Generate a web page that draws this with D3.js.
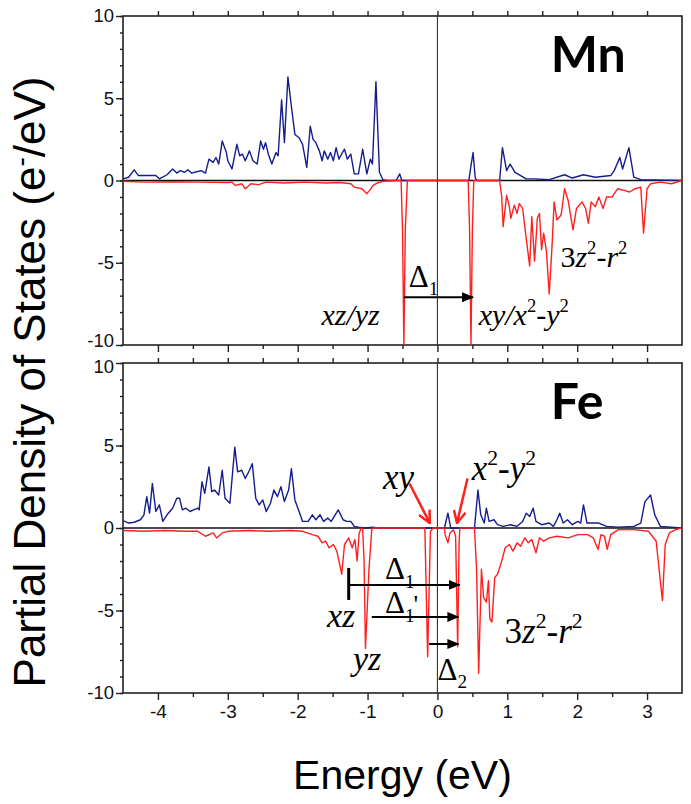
<!DOCTYPE html>
<html><head><meta charset="utf-8">
<script src="https://cdn.jsdelivr.net/npm/d3@7"></script>
<style>
body{margin:0;background:#fff}svg{display:block}
.sans{font-family:"Liberation Sans", Arial, Helvetica, sans-serif;}
.serif{font-family:"Liberation Serif", "Times New Roman", Times, serif;}
.lab{font-family:Lato, "Open Sans", sans-serif; font-weight:700;}
</style>
</head><body>
<svg id="c" width="691" height="804"></svg>
<script>
// ---------- DATA (energy in eV, PDOS in e-/eV) ----------
const xTicks = [-4,-3,-2,-1,0,1,2,3];
const yTicks = [-10,-5,0,5,10];

const mnUpE = [-4.50,-4.42,-4.34,-4.28,-4.20,-4.03,-3.98,-3.87,-3.79,-3.73,-3.68,-3.62,-3.57,-3.52,-3.43,-3.38,-3.32,-3.27,-3.21,-3.17,-3.13,-3.08,-3.02,-3.00,-2.94,-2.87,-2.83,-2.79,-2.75,-2.69,-2.64,-2.58,-2.53,-2.49,-2.46,-2.42,-2.37,-2.31,-2.28,-2.23,-2.19,-2.14,-2.09,-2.04,-1.98,-1.93,-1.87,-1.82,-1.78,-1.74,-1.69,-1.65,-1.62,-1.57,-1.53,-1.49,-1.45,-1.41,-1.36,-1.33,-1.29,-1.24,-1.19,-1.13,-1.07,-1.01,-0.96,-0.93,-0.88,-0.83,-0.78,-0.72,-0.59,-0.54,-0.51,0.45,0.48,0.51,0.54,0.56,0.89,0.93,0.99,1.04,1.11,1.19,1.27,1.38,1.60,1.82,1.93,2.09,2.26,2.48,2.53,2.61,2.65,2.74,2.81,2.91,3.50];
const mnUp  = [0.1,0.2,0.65,0.3,0.3,0.3,0.1,0.35,0.7,0.45,0.6,0.5,0.65,0.45,0.55,0.6,0.45,1.3,1.1,1.4,1.0,2.4,1.7,1.2,0.7,2.2,1.5,1.6,1.2,1.8,1.2,1.0,2.4,1.9,2.3,1.6,1.0,1.7,1.5,4.9,2.3,6.3,4.5,2.8,2.6,2.2,0.8,3.3,2.5,2.3,1.8,1.2,1.8,1.3,1.7,1.2,2.0,1.3,1.7,1.9,1.3,1.6,0.4,0.4,1.9,0.4,1.3,1.0,6.0,0.5,0.05,0,0,0.4,0,0,0.9,1.7,0.2,0,0,2.0,0.6,1.0,0.5,0.3,0.1,0.1,0.05,0.35,0.15,0.35,0.2,0.3,0.6,1.4,0.7,2.0,0.2,0.05,0];

const mnDnE = [-4.50,-4.20,-3.80,-3.40,-3.00,-2.94,-2.89,-2.80,-2.75,-2.67,-2.56,-2.45,-2.20,-1.90,-1.60,-1.40,-1.24,-1.19,-1.08,-1.01,-0.97,-0.92,-0.86,-0.78,-0.59,-0.52,-0.50,-0.48,-0.46,-0.43,0.44,0.46,0.48,0.50,0.52,0.89,0.92,0.94,0.99,1.03,1.05,1.10,1.14,1.17,1.22,1.27,1.32,1.35,1.39,1.43,1.46,1.49,1.52,1.56,1.60,1.64,1.67,1.71,1.77,1.82,1.87,1.94,1.99,2.07,2.12,2.16,2.20,2.26,2.31,2.37,2.42,2.50,2.58,2.67,2.75,2.83,2.91,2.95,3.00,3.05,3.19,3.35,3.50];
const mnDn  = [-0.05,-0.1,-0.08,-0.1,-0.12,-0.1,-0.3,-0.2,-0.5,-0.2,-0.25,-0.1,-0.15,-0.1,-0.15,-0.12,-0.2,-0.4,-0.5,-0.8,-0.6,-0.3,-0.15,-0.05,0,0,-3,-10,-3,0,0,-3,-10,-3,0,0,-1.0,-2.8,-0.9,-1.6,-2.3,-1.5,-2.0,-1.4,-1.7,-3.5,-5.2,-2.2,-4.9,-2.3,-2.0,-4.2,-3.2,-4.3,-6.9,-4.0,-1.3,-2.4,-2.1,-0.5,-1.2,-3.0,-1.7,-1.3,-1.7,-2.6,-1.3,-1.6,-1.0,-1.7,-1.0,-1.0,-0.5,-0.6,-0.7,-0.5,-0.4,-3.2,-0.5,-0.2,-0.1,-0.2,0];

const feUpE = [-4.50,-4.42,-4.34,-4.25,-4.20,-4.16,-4.12,-4.08,-4.03,-3.98,-3.93,-3.87,-3.79,-3.73,-3.69,-3.65,-3.60,-3.54,-3.49,-3.43,-3.41,-3.37,-3.33,-3.27,-3.23,-3.19,-3.13,-3.08,-3.04,-2.97,-2.90,-2.86,-2.80,-2.75,-2.69,-2.65,-2.60,-2.55,-2.50,-2.45,-2.39,-2.34,-2.29,-2.24,-2.19,-2.13,-2.09,-2.04,-1.98,-1.93,-1.85,-1.79,-1.74,-1.68,-1.63,-1.57,-1.52,-1.42,-1.35,-1.30,-1.24,-1.19,-1.13,-1.03,-0.92,-0.86,0.10,0.15,0.19,0.53,0.58,0.62,0.67,0.70,0.74,0.81,0.86,0.94,1.05,1.14,1.22,1.27,1.32,1.37,1.41,1.49,1.60,1.66,1.71,1.75,1.80,1.86,1.93,2.01,2.05,2.09,2.14,2.20,2.31,2.42,2.59,2.81,2.91,2.97,3.05,3.11,3.19,3.50];
const feUp  = [0.45,0.3,0.35,0.5,0.8,1.9,0.9,2.7,1.0,1.4,0.4,0.8,1.2,1.8,1.8,1.1,1.2,1.0,1.1,1.2,1.1,2.8,2.1,3.7,2.2,2.3,2.0,3.5,1.8,1.5,4.9,3.4,3.5,3.0,3.5,3.9,1.8,1.4,1.7,1.0,1.5,2.3,1.9,2.5,1.6,2.3,3.6,1.7,1.0,0.4,0.4,0.8,0.5,0.8,0.4,0.6,0.4,1.1,0.5,0.4,0.4,0.1,0.05,0,0.05,0,0,0.9,0,0,2.3,0.8,0.3,1.2,0.4,0.5,0.2,0.1,0.2,0.1,0.4,0.9,0.7,1.2,0.4,0.2,0.3,0.1,0.5,0.9,0.3,0.5,0.2,0.4,0.3,1.4,0.3,0.3,0.3,0.1,0.05,0.1,0.3,1.6,2.0,0.8,0.1,0];

const feDnE = [-4.50,-4.20,-3.90,-3.60,-3.43,-3.32,-3.21,-3.16,-3.08,-3.00,-2.70,-2.40,-2.10,-1.93,-1.79,-1.71,-1.65,-1.60,-1.55,-1.49,-1.44,-1.37,-1.33,-1.27,-1.22,-1.18,-1.15,-1.12,-1.09,-1.07,-1.05,-1.03,-0.98,-0.94,-0.92,-0.18,-0.14,-0.10,-0.06,0.10,0.11,0.15,0.18,0.23,0.26,0.29,0.31,0.32,0.53,0.56,0.59,0.63,0.66,0.70,0.73,0.75,0.78,0.82,0.86,0.92,0.97,1.03,1.08,1.14,1.19,1.25,1.30,1.35,1.41,1.46,1.52,1.60,1.71,1.87,2.01,2.15,2.23,2.30,2.34,2.39,2.43,2.48,2.59,2.81,3.02,3.13,3.22,3.26,3.32,3.41,3.50];
const feDn  = [-0.15,-0.2,-0.15,-0.2,-0.2,-0.5,-0.3,-0.6,-0.3,-0.2,-0.15,-0.2,-0.15,-0.2,-0.4,-0.5,-0.9,-0.8,-1.2,-1.0,-1.4,-2.8,-1.0,-0.6,-1.2,-0.7,-2.0,-0.3,0,-0.05,-2.0,-7.3,-2.5,-0.1,0,0,-7.8,-0.2,0,0,-0.4,-0.9,-0.3,-0.1,-0.5,-7.2,-1.0,0,0,-2.5,-8.8,-2.5,-4.2,-4.5,-3.2,-5.5,-5.7,-3.0,-2.8,-2.0,-1.2,-1.0,-1.4,-0.9,-1.1,-0.6,-0.9,-0.7,-1.5,-0.6,-0.8,-0.6,-0.5,-0.6,-0.4,-0.4,-0.6,-1.3,-0.4,-0.5,-1.3,-0.4,-0.1,-0.1,-0.2,-0.8,-4.4,-1.0,-0.3,-0.1,0];

// ---------- LAYOUT ----------
const svg = d3.select("#c");
const X0 = 123, X1 = 682;
const x = d3.scaleLinear().domain([-4.5, 3.5]).range([X0, X1]);
const yTop = d3.scaleLinear().domain([-10, 10]).range([345, 16]);
const yBot = d3.scaleLinear().domain([-10, 10]).range([693, 363]);
const BLUE = "#141d8c", RED = "#ff1f1f";

const defs = svg.append("defs");
defs.append("marker").attr("id","ah").attr("viewBox","0 0 12 10").attr("refX",11).attr("refY",5)
  .attr("markerWidth",12).attr("markerHeight",10).attr("markerUnits","userSpaceOnUse").attr("orient","auto")
  .append("path").attr("d","M0,0 L12,5 L0,10 Z").attr("fill","#000");
defs.append("marker").attr("id","rh").attr("viewBox","0 0 14 14").attr("refX",13).attr("refY",7)
  .attr("markerWidth",14).attr("markerHeight",14).attr("markerUnits","userSpaceOnUse").attr("orient","auto")
  .append("path").attr("d","M1,1 L13,7 L1,13").attr("fill","none").attr("stroke",RED).attr("stroke-width",2.5);

const panels = [
  {id:"top", y:yTop, upE:mnUpE, up:mnUp, dnE:mnDnE, dn:mnDn, name:"Mn", labels:false},
  {id:"bot", y:yBot, upE:feUpE, up:feUp, dnE:feDnE, dn:feDn, name:"Fe", labels:true}
];

function richText(g, ex, vy, y, segs, size) {
  const t = g.append("text").attr("class","serif").attr("x", x(ex)).attr("y", y(vy))
    .attr("font-size", size).attr("fill", "#000");
  let shift = 0;
  segs.forEach(s => {
    const sp = t.append("tspan").text(s.t);
    if (s.i) sp.attr("font-style","italic");
    let target = s.sup ? -0.42*size : (s.sub ? 0.28*size : 0);
    if (target !== shift) { sp.attr("dy", target - shift); shift = target; }
    if (s.sup || s.sub) sp.attr("font-size", size*0.62);
    if (s.fs) sp.attr("font-size", s.fs);
    if (s.dx) sp.attr("dx", s.dx);
  });
  return t;
}

panels.forEach(p => {
  const y = p.y;
  const g = svg.append("g");
  const [yb, yt] = y.range();
  defs.append("clipPath").attr("id","clip-"+p.id).append("rect")
    .attr("x",X0).attr("y",yt).attr("width",X1-X0).attr("height",yb-yt);

  const left = g.append("g").attr("transform",`translate(${X0},0)`)
    .call(d3.axisLeft(y).tickValues(d3.range(-10,11,1)).tickSize(3).tickFormat(""));
  left.select(".domain").remove();
  const leftMaj = g.append("g").attr("transform",`translate(${X0},0)`)
    .call(d3.axisLeft(y).tickValues(yTicks).tickSize(7).tickPadding(2).tickFormat(d=>String(d)));
  leftMaj.select(".domain").remove();
  leftMaj.selectAll("text").attr("class","sans").attr("font-size",18.5).attr("fill","#111");
  // the two labels where the panels meet sit a little apart
  leftMaj.selectAll(".tick").filter(d => p.id==="top" ? d===-10 : d===10)
    .select("text").attr("dy", p.id==="top" ? "0.1em" : "0.52em");

  const halfTicks = d3.range(-4.5,3.51,0.5);
  const topAx = g.append("g").attr("transform",`translate(0,${yt})`)
    .call(d3.axisTop(x).tickValues(halfTicks.filter(v=>v>-4.5&&v<3.5)).tickSize(5).tickFormat(""));
  topAx.select(".domain").remove();
  const botAx = g.append("g").attr("transform",`translate(0,${yb})`)
    .call(d3.axisBottom(x).tickValues(halfTicks.filter(v=>v>-4.5&&v<3.5 && !Number.isInteger(v))).tickSize(4).tickFormat(""));
  botAx.select(".domain").remove();
  const botMaj = g.append("g").attr("transform",`translate(0,${yb})`)
    .call(d3.axisBottom(x).tickValues(xTicks).tickSize(7).tickPadding(5).tickFormat(p.labels ? (d=>String(d)) : ""));
  botMaj.select(".domain").remove();
  botMaj.selectAll("text").attr("class","sans").attr("font-size",19).attr("fill","#111");
  g.selectAll("g").attr("font-family",null);
  g.selectAll(".tick line").attr("stroke","#222").attr("stroke-width",1.4);

  g.append("rect").attr("x",X0).attr("y",yt).attr("width",X1-X0).attr("height",yb-yt)
    .attr("fill","none").attr("stroke","#222").attr("stroke-width",1.6);

  g.append("line").attr("x1",x(0)).attr("x2",x(0)).attr("y1",yt).attr("y2",yb)
    .attr("stroke","#333").attr("stroke-width",1.1);
  g.append("line").attr("x1",X0).attr("x2",X1).attr("y1",y(0)).attr("y2",y(0))
    .attr("stroke","#111").attr("stroke-width",1.4);

  const line = d3.line().x(d=>x(d[0])).y(d=>y(d[1]));
  const cg = g.append("g").attr("clip-path",`url(#clip-${p.id})`);
  cg.append("path").datum(d3.zip(p.upE,p.up)).attr("d",line)
    .attr("fill","none").attr("stroke",BLUE).attr("stroke-width",1.4).attr("stroke-linejoin","round");
  cg.append("path").datum(d3.zip(p.dnE,p.dn)).attr("d",line)
    .attr("fill","none").attr("stroke",RED).attr("stroke-width",1.4).attr("stroke-linejoin","round");

  g.append("text").attr("class","lab").attr("x",x(1.62)).attr("y",y(6.6)).text(p.name)
    .attr("font-size",50).attr("fill","#000");
  p.g = g;
});

// ---------- ANNOTATIONS ----------
const gt = panels[0].g, gb = panels[1].g;
function arrow(g, y, e0, e1, v) {
  g.append("line").attr("x1",x(e0)).attr("x2",x(e1)).attr("y1",y(v)).attr("y2",y(v))
    .attr("stroke","#000").attr("stroke-width",2).attr("marker-end","url(#ah)");
}
// Mn
arrow(gt, yTop, -0.48, 0.51, -7.1);
richText(gt, -0.41, -6.45, yTop, [{t:"Δ"},{t:"1",sub:true}], 31);
richText(gt, -1.66, -8.78, yTop, [{t:"xz/yz",i:true}], 30);
richText(gt, 0.59, -8.78, yTop, [{t:"xy/x",i:true},{t:"2",sup:true},{t:"-"},{t:"y",i:true},{t:"2",sup:true}], 30);
richText(gt, 1.76, -5.23, yTop, [{t:"3"},{t:"z",i:true},{t:"2",sup:true},{t:"-"},{t:"r",i:true},{t:"2",sup:true}], 30);

// Fe
richText(gb, -0.78, 2.36, yBot, [{t:"xy",i:true}], 35);
richText(gb, 0.49, 2.9, yBot, [{t:"x",i:true},{t:"2",sup:true},{t:"-"},{t:"y",i:true},{t:"2",sup:true}], 35);
gb.append("line").attr("x1",x(-0.40)).attr("y1",yBot(2.7)).attr("x2",x(-0.11)).attr("y2",yBot(0.3))
  .attr("stroke",RED).attr("stroke-width",2.5).attr("marker-end","url(#rh)");
gb.append("line").attr("x1",x(0.43)).attr("y1",yBot(3.0)).attr("x2",x(0.28)).attr("y2",yBot(0.3))
  .attr("stroke",RED).attr("stroke-width",2.5).attr("marker-end","url(#rh)");
gb.append("line").attr("x1",x(-1.27)).attr("x2",x(-1.27)).attr("y1",yBot(-2.42)).attr("y2",yBot(-4.36))
  .attr("stroke","#000").attr("stroke-width",3);
arrow(gb, yBot, -1.27, 0.32, -3.45);
arrow(gb, yBot, -0.94, 0.30, -5.39);
arrow(gb, yBot, -0.12, 0.30, -7.03);
richText(gb, -0.75, -3.08, yBot, [{t:"Δ"},{t:"1",sub:true}], 31);
richText(gb, -0.75, -5.15, yBot, [{t:"Δ"},{t:"1",sub:true},{t:"'",fs:26,dx:-1}], 31);
richText(gb, -1.58, -6.0, yBot, [{t:"xz",i:true}], 34);
richText(gb, -1.21, -8.6, yBot, [{t:"yz",i:true}], 34);
richText(gb, 0.0, -9.2, yBot, [{t:"Δ"},{t:"2",sub:true}], 31);
richText(gb, 0.96, -6.97, yBot, [{t:"3"},{t:"z",i:true},{t:"2",sup:true},{t:"-"},{t:"r",i:true},{t:"2",sup:true}], 35);

// ---------- AXIS TITLES ----------
svg.append("text").attr("class","sans").attr("x",(X0+X1)/2).attr("y",789).attr("text-anchor","middle")
  .attr("font-size",41).attr("fill","#000").text("Energy (eV)");
const yl = svg.append("text").attr("class","sans").attr("transform","translate(45,382) rotate(-90)").attr("text-anchor","middle")
  .attr("font-size",44).attr("fill","#000");
yl.append("tspan").text("Partial Density of States (e");
yl.append("tspan").text("-").attr("dy",-15).attr("font-size",28);
yl.append("tspan").text("/eV)").attr("dy",15);
</script>
</body></html>
